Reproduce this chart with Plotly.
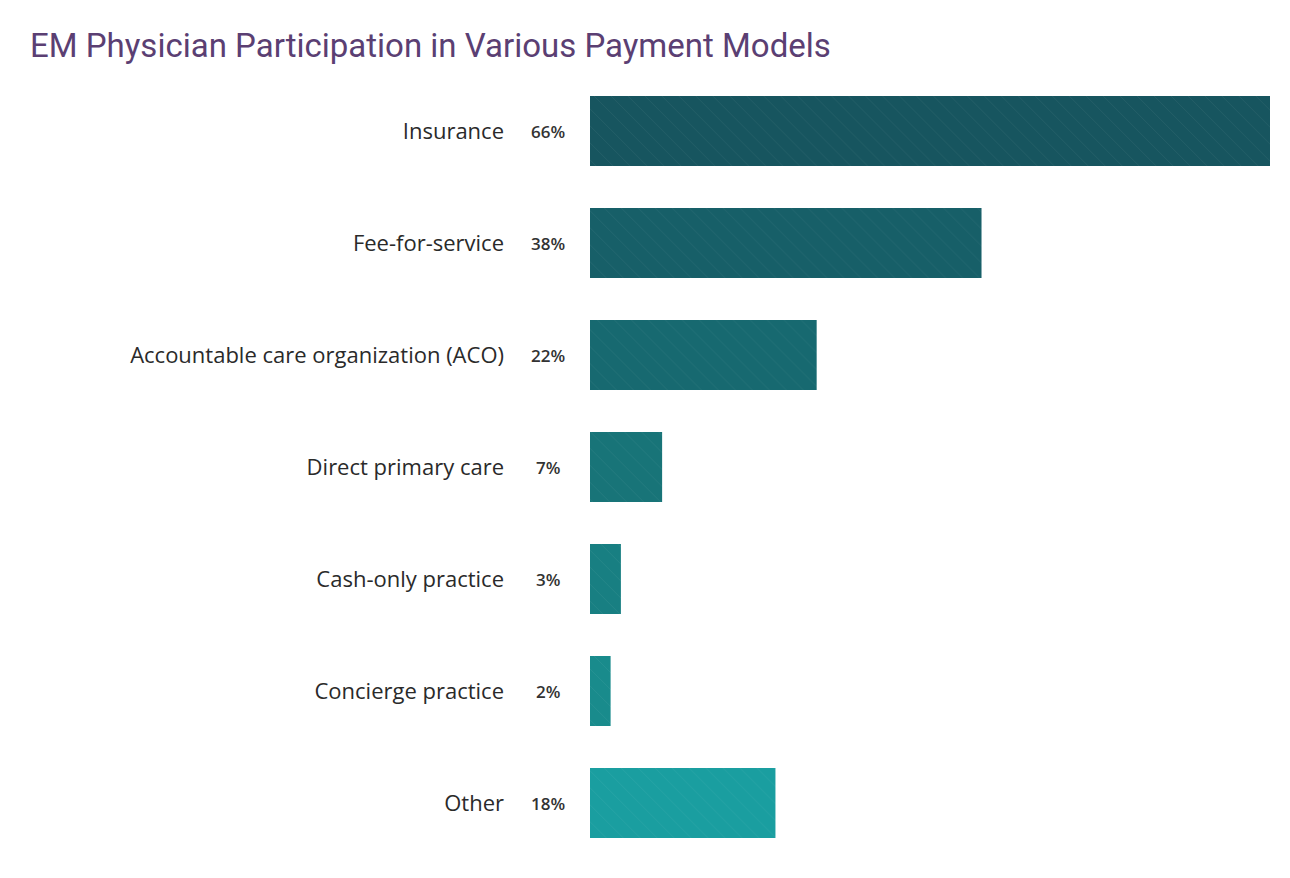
import plotly.graph_objects as go

# data
categories = ['Insurance', 'Fee-for-service', 'Accountable care organization (ACO)',
              'Direct primary care', 'Cash-only practice', 'Concierge practice', 'Other']
values = [66, 38, 22, 7, 3, 2, 18]
colors = ['#17555f', '#175f68', '#176970', '#187478', '#187f82', '#198b8c', '#1a9ea0']

fig = go.Figure(go.Bar(
    x=values, y=categories, orientation='h',
    marker=dict(color=colors, line_width=0,
                pattern=dict(shape='\\', fgcolor='#ffffff', fgopacity=0.07, size=12, solidity=0.06)),
    hoverinfo='x+y',
))

plot_w = 1290 - 582 - 28
for cat, v in zip(categories, values):
    fig.add_annotation(x=(548 - 590) / plot_w, xref='paper', y=cat, yref='y',
                       text=f'{v}%', showarrow=False, xanchor='center',
                       font=dict(family='Open Sans', size=17, color='#333333', weight=600))

fig.update_layout(
    width=1290, height=878,
    margin=dict(l=582, r=28, t=67, b=27),
    plot_bgcolor='white', paper_bgcolor='white',
    bargap=0.375,
    showlegend=False,
    title=dict(text='EM Physician Participation in Various Payment Models',
               x=22 / 1290, xanchor='left', y=1 - 37 / 878, yanchor='middle',
               font=dict(family='Roboto', size=33, color='#5b3f73')),
    xaxis=dict(range=[0, 66], visible=False, fixedrange=True),
    yaxis=dict(autorange='reversed', showgrid=False, showline=False, ticks='',
               ticklabelstandoff=85,
               tickfont=dict(family='Open Sans', size=22, color='#2a2a2a')),
)

fig.write_html("out.html")
